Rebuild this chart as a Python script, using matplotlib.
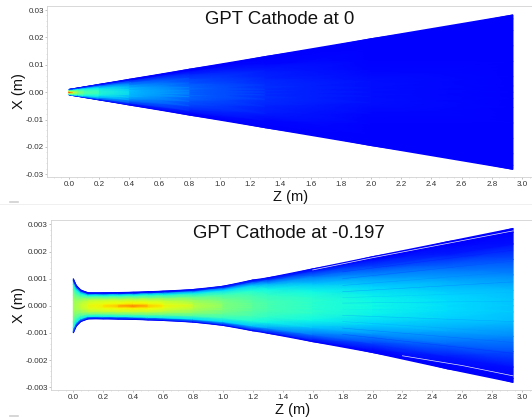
import numpy as np
import matplotlib
matplotlib.use('Agg')
from matplotlib import pyplot as plt
from matplotlib.lines import Line2D

plt.rcParams['font.family'] = ['Liberation Sans', 'DejaVu Sans']

#fraction of the beam half width where the colour values are read
u_levels = [0.0, 0.08, 0.2, 0.4, 0.6, 0.8, 0.95, 1.0]

#Top panel, cathode at 0
z_top = [0.0, 0.01, 0.03, 0.06, 0.1, 0.2, 0.4, 0.8, 1.3, 2.0, 2.94]
halfwidth_top = [0.0010, 0.0011, 0.00128, 0.00155, 0.00193, 0.00285, 0.0047, 0.0084, 0.0130, 0.0195, 0.0282]
color_top = [
    [0.90, 0.85, 0.70, 0.60, 0.50, 0.38, 0.24, 0.12],
    [0.85, 0.78, 0.65, 0.56, 0.47, 0.36, 0.22, 0.12],
    [0.60, 0.59, 0.56, 0.52, 0.45, 0.35, 0.20, 0.11],
    [0.52, 0.51, 0.50, 0.47, 0.42, 0.33, 0.19, 0.11],
    [0.46, 0.46, 0.45, 0.42, 0.38, 0.30, 0.18, 0.11],
    [0.41, 0.41, 0.40, 0.37, 0.33, 0.25, 0.16, 0.11],
    [0.33, 0.33, 0.32, 0.30, 0.26, 0.20, 0.14, 0.11],
    [0.23, 0.23, 0.23, 0.21, 0.19, 0.16, 0.12, 0.11],
    [0.17, 0.17, 0.17, 0.16, 0.15, 0.13, 0.11, 0.11],
    [0.14, 0.14, 0.14, 0.13, 0.12, 0.12, 0.11, 0.11],
    [0.12, 0.12, 0.12, 0.12, 0.11, 0.11, 0.11, 0.11],
]

#Bottom panel, cathode at -0.197
z_bot = [0.0, 0.02, 0.05, 0.1, 0.2, 0.3, 0.4, 0.5, 0.6, 0.8, 1.0, 1.2, 1.3, 1.6, 2.0, 2.5, 2.94]
upper_bot = [0.00100, 0.00075, 0.00058, 0.00048, 0.00048, 0.00049, 0.00050, 0.00052, 0.00054, 0.00060,
             0.00072, 0.00095, 0.00103, 0.00136, 0.00181, 0.00236, 0.00285]
lower_bot = [0.00100, 0.00075, 0.00058, 0.00048, 0.00048, 0.00049, 0.00050, 0.00052, 0.00054, 0.00060,
             0.00072, 0.00092, 0.00101, 0.00132, 0.00172, 0.00232, 0.00282]
color_bot = [
    [0.55, 0.55, 0.54, 0.50, 0.45, 0.38, 0.18, 0.12],
    [0.55, 0.55, 0.54, 0.50, 0.44, 0.36, 0.16, 0.12],
    [0.58, 0.58, 0.57, 0.52, 0.45, 0.36, 0.15, 0.11],
    [0.62, 0.62, 0.61, 0.58, 0.50, 0.37, 0.15, 0.11],
    [0.66, 0.65, 0.63, 0.60, 0.50, 0.37, 0.15, 0.11],
    [0.72, 0.68, 0.64, 0.60, 0.50, 0.37, 0.15, 0.11],
    [0.80, 0.72, 0.65, 0.60, 0.50, 0.37, 0.15, 0.11],
    [0.71, 0.68, 0.64, 0.59, 0.49, 0.37, 0.15, 0.11],
    [0.65, 0.64, 0.62, 0.57, 0.48, 0.36, 0.15, 0.11],
    [0.59, 0.58, 0.56, 0.52, 0.45, 0.35, 0.16, 0.11],
    [0.51, 0.51, 0.50, 0.47, 0.42, 0.34, 0.17, 0.11],
    [0.46, 0.46, 0.45, 0.43, 0.39, 0.32, 0.17, 0.11],
    [0.44, 0.44, 0.43, 0.41, 0.37, 0.29, 0.17, 0.11],
    [0.40, 0.40, 0.40, 0.37, 0.32, 0.24, 0.15, 0.11],
    [0.37, 0.37, 0.36, 0.33, 0.27, 0.19, 0.13, 0.11],
    [0.34, 0.34, 0.33, 0.29, 0.23, 0.15, 0.12, 0.11],
    [0.32, 0.32, 0.31, 0.26, 0.20, 0.14, 0.12, 0.11],
]

#White gaps near the beam edge in the bottom panel
gap_z_upper = [1.6, 2.0, 2.94]
gap_x_upper = [0.00132, 0.00177, 0.00276]
gap_z_lower = [2.2, 2.6, 2.94]
gap_x_lower = [-0.00184, -0.00220, -0.00258]

#Faint streaks in the wide part of the bottom beam: height at both ends and colour value
streak_z = [1.8, 2.94]
streak_start = [0.00125, 0.00100, 0.00075, 0.00052, 0.00030, 0.00010, -0.00012, -0.00035, -0.00058, -0.00082, -0.00105]
streak_end = [0.00205, 0.00165, 0.00125, 0.00088, 0.00050, 0.00017, -0.00020, -0.00058, -0.00098, -0.00135, -0.00175]
streak_value = [0.14, 0.18, 0.24, 0.22, 0.30, 0.28, 0.34, 0.25, 0.27, 0.20, 0.15]

z_ticks = [0.0, 0.2, 0.4, 0.6, 0.8, 1.0, 1.2, 1.4, 1.6, 1.8, 2.0, 2.2, 2.4, 2.6, 2.8, 3.0]
x_ticks_top = [-0.03, -0.02, -0.01, 0.00, 0.01, 0.02, 0.03]
x_ticks_bot = [-0.003, -0.002, -0.001, 0.000, 0.001, 0.002, 0.003]

W, H = 532.0, 419.0


def draw_beam(ax, z, upper, lower, colors):
    colors = np.asarray(colors)
    u = np.asarray(u_levels)
    #mirror the half table so the beam spans both sides of the axis
    c_full = np.hstack((colors[:, :0:-1], colors))
    Z = np.repeat(np.asarray(z)[:, None], c_full.shape[1], axis=1)
    X = np.hstack((-np.asarray(lower)[:, None] * u[:0:-1][None, :], np.asarray(upper)[:, None] * u[None, :]))
    ax.pcolormesh(Z, X, c_full, cmap='jet', vmin=0, vmax=1, shading='gouraud')


def style_axes(ax, xlim, ylim, yticks, yfmt, title, title_x, title_y, xlab_x, xlab_y, ylab_y):
    ax.set_xlim(xlim)
    ax.set_ylim(ylim)
    ax.set_xticks(z_ticks)
    ax.set_xticklabels(["{:.1f}".format(t) for t in z_ticks])
    ax.set_yticks(yticks)
    ax.set_yticklabels([yfmt.format(t) for t in yticks])
    ax.minorticks_on()
    ax.tick_params(which='major', labelsize=5.8, length=1.5, width=0.5, color='#aaaaaa', labelcolor='#333333', pad=0.8)
    ax.tick_params(which='minor', length=0.8, width=0.4, color='#cccccc')
    ax.tick_params(axis='x', which='major', pad=1.5)
    for side in ['top', 'bottom', 'left']:
        ax.spines[side].set_color('#d2d2d2')
        ax.spines[side].set_linewidth(0.6)
    ax.spines['right'].set_visible(False)
    fig.text(title_x / W, 1 - title_y / H, title, fontsize=13.4, color='#111111', ha='center', va='center')
    fig.text(19 / W, 1 - ylab_y / H, 'X (m)', fontsize=10.5, rotation=90, color='#111111', ha='center', va='center')
    fig.text(xlab_x / W, 1 - xlab_y / H, 'Z (m)', fontsize=10.5, color='#111111', ha='center', va='center')


fig = plt.figure(figsize=(W / 100, H / 100), dpi=100)

ax_top = fig.add_axes([47 / W, 1 - 177 / H, (532 - 47) / W, (177 - 6.5) / H])
draw_beam(ax_top, z_top, halfwidth_top, halfwidth_top, color_top)
style_axes(ax_top, (-0.1457, 3.066), (-0.03099, 0.03128), x_ticks_top, "{:.2f}", 'GPT Cathode at 0', 280, 20, 291, 197, 91)

ax_bot = fig.add_axes([51 / W, 1 - 390 / H, (532 - 51) / W, (390 - 220) / H])
draw_beam(ax_bot, z_bot, upper_bot, lower_bot, color_bot)
for s0, s1, v in zip(streak_start, streak_end, streak_value):
    ax_bot.plot(streak_z, [s0, s1], color=plt.get_cmap('jet')(v), linewidth=0.4, alpha=0.35)
ax_bot.plot(gap_z_upper, gap_x_upper, color='white', linewidth=0.5, alpha=0.9)
ax_bot.plot(gap_z_lower, gap_x_lower, color='white', linewidth=0.5, alpha=0.9)
style_axes(ax_bot, (-0.149, 3.066), (-0.0031, 0.00316), x_ticks_bot, "{:.3f}", 'GPT Cathode at -0.197', 289, 233, 293, 410, 305)

#small grey marks left over under each panel in the reference
fig.add_artist(Line2D([10 / W, 18 / W], [1 - 201.5 / H, 1 - 201.5 / H], color='#d0d0d0', linewidth=1.2))
fig.add_artist(Line2D([10 / W, 18 / W], [1 - 415.5 / H, 1 - 415.5 / H], color='#d0d0d0', linewidth=1.2))
fig.add_artist(Line2D([0, 1], [1 - 204.5 / H, 1 - 204.5 / H], color='#eeeeee', linewidth=0.6))

plt.savefig('out.png', dpi=100)
